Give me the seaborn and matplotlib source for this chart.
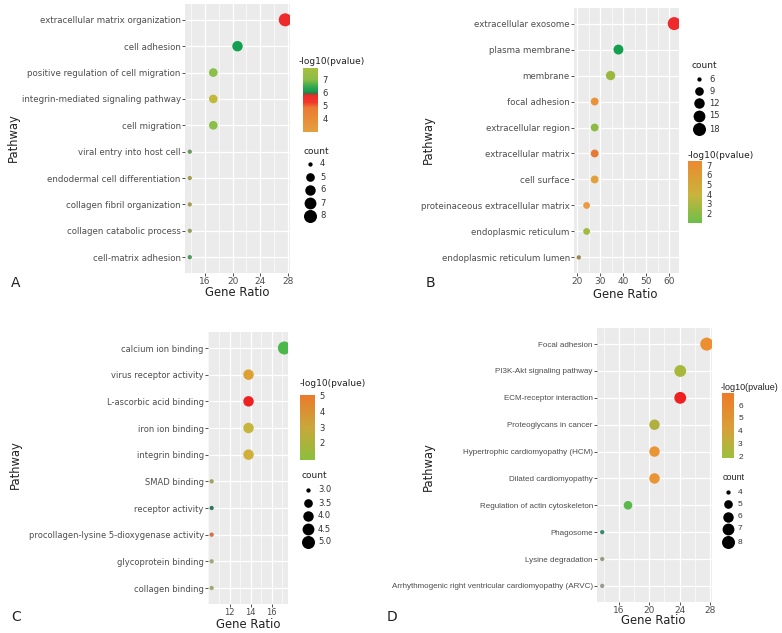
import matplotlib
matplotlib.use("Agg")
import matplotlib.pyplot as plt
import matplotlib.colors as mcolors
from matplotlib.cm import ScalarMappable
from matplotlib.ticker import AutoMinorLocator
import seaborn as sns
import pandas as pd
import numpy as np

# ---- A: biological process
terms_a = ["extracellular matrix organization", "cell adhesion", "positive regulation of cell migration",
           "integrin-mediated signaling pathway", "cell migration", "viral entry into host cell",
           "endodermal cell differentiation", "collagen fibril organization", "collagen catabolic process",
           "cell-matrix adhesion"]
ratio_a = [27.6, 20.7, 17.2, 17.2, 17.2, 13.8, 13.8, 13.8, 13.8, 13.8]
count_a = [8, 6, 5, 5, 5, 4, 4, 4, 4, 4]
colors_a = ["#ee2a2a", "#14a050", "#8cbf45", "#c2b83a", "#8cbf45",
            "#6a9a60", "#a39c55", "#a39c55", "#93a060", "#4f9a55"]
xticks_a = [16, 20, 24, 28]
pv_range_a = (3.0, 7.92)
pv_ticks_a = [4, 5, 6, 7]
count_labels_a = [4, 5, 6, 7, 8]

# ---- B: cellular component
terms_b = ["extracellular exosome", "plasma membrane", "membrane", "focal adhesion", "extracellular region",
           "extracellular matrix", "cell surface", "proteinaceous extracellular matrix",
           "endoplasmic reticulum", "endoplasmic reticulum lumen"]
ratio_b = [62.1, 37.9, 34.5, 27.6, 27.6, 27.6, 27.6, 24.1, 24.1, 20.7]
count_b = [18, 11, 10, 8, 8, 8, 8, 7, 7, 6]
colors_b = ["#ee2a2a", "#13a04e", "#9ab83e", "#e8923a", "#8cbb45",
            "#e57a35", "#e0a03a", "#ec9a45", "#a0bb40", "#9a8a50"]
xticks_b = [20, 30, 40, 50, 60]
pv_range_b = (1.0, 7.42)
pv_ticks_b = [2, 3, 4, 5, 6, 7]
count_labels_b = [6, 9, 12, 15, 18]

# ---- C: molecular function
terms_c = ["calcium ion binding", "virus receptor activity", "L-ascorbic acid binding", "iron ion binding",
           "integrin binding", "SMAD binding", "receptor activity",
           "procollagen-lysine 5-dioxygenase activity", "glycoprotein binding", "collagen binding"]
ratio_c = [17.2, 13.8, 13.8, 13.8, 13.8, 10.3, 10.3, 10.3, 10.3, 10.3]
count_c = [5, 4, 4, 4, 4, 3, 3, 3, 3, 3]
colors_c = ["#4cb84c", "#dea032", "#ee2020", "#c5b53a", "#d0b03a",
            "#a0a060", "#2e7a5a", "#d07050", "#a0a878", "#a0a870"]
xticks_c = [12, 14, 16]
pv_range_c = (0.9, 5.06)
pv_ticks_c = [2, 3, 4, 5]
count_labels_c = ["3.0", "3.5", "4.0", "4.5", "5.0"]

# ---- D: KEGG
terms_d = ["Focal adhesion", "PI3K-Akt signaling pathway", "ECM-receptor interaction", "Proteoglycans in cancer",
           "Hypertrophic cardiomyopathy (HCM)", "Dilated cardiomyopathy", "Regulation of actin cytoskeleton",
           "Phagosome", "Lysine degradation", "Arrhythmogenic right ventricular cardiomyopathy (ARVC)"]
ratio_d = [27.6, 24.1, 24.1, 20.7, 20.7, 20.7, 17.2, 13.8, 13.8, 13.8]
count_d = [8, 7, 7, 6, 6, 6, 5, 4, 4, 4]
colors_d = ["#ec8f30", "#a8b83a", "#ee2020", "#b0b040", "#ea9535",
            "#ea9535", "#5cb84c", "#3a8a6a", "#9a9a80", "#9a9a90"]
xticks_d = [16, 20, 24, 28]
pv_range_d = (1.85, 6.94)
pv_ticks_d = [2, 3, 4, 5, 6]
count_labels_d = [4, 5, 6, 7, 8]

W, H = 782, 633
TXT = "#4d4d4d"
DV = ["DejaVu Sans"]
LS = ["Liberation Sans", "DejaVu Sans"]

sns.set_theme(style="darkgrid", rc={"axes.facecolor": "#EBEBEB", "grid.color": "white"})
plt.rcParams["font.family"] = ["DejaVu Sans"]

fig = plt.figure(figsize=(W / 100, H / 100), dpi=100)


def px_axes(left, top, right, bottom):
    return fig.add_axes([left / W, 1 - bottom / H, (right - left) / W, (bottom - top) / H])


def dot_area(c, cmin, cmax):
    # ggplot-ish area scale: diameter grows with sqrt of the rescaled count
    d = 4.3 + 8.7 * np.sqrt((float(c) - cmin) / (cmax - cmin))
    return (d * 0.72) ** 2


def dot_panel(rect, terms, ratio, count, colors, xticks, ylab_family, ylab_size, xtick_size=6.5):
    ax = px_axes(*rect)
    df = pd.DataFrame({"term": terms, "ratio": ratio, "count": count})
    cmin, cmax = min(count), max(count)
    sizes = {c: dot_area(c, cmin, cmax) for c in set(count)}
    sns.scatterplot(data=df, x="ratio", y="term", hue="term", palette=dict(zip(terms, colors)),
                    size="count", sizes=sizes, legend=False, linewidth=0, ax=ax, zorder=3)
    pad = 0.05 * (max(ratio) - min(ratio))
    ax.set_xlim(min(ratio) - pad, max(ratio) + pad)
    ax.set_ylim(len(terms) - 0.4, -0.6)
    ax.set_yticks(range(len(terms)))
    ax.set_yticklabels(terms, family=ylab_family, fontsize=ylab_size, color=TXT)
    ax.set_xticks(xticks)
    ax.set_xticklabels([str(t) for t in xticks], fontsize=xtick_size, color=TXT)
    ax.xaxis.set_minor_locator(AutoMinorLocator(2))
    ax.grid(which="major", color="white", lw=0.9)
    ax.grid(which="minor", axis="x", color="white", lw=0.45)
    ax.tick_params(which="major", left=True, bottom=True, length=2, width=0.6, color="#333333", pad=1.0)
    ax.tick_params(which="minor", length=0)
    ax.set_xlabel("")
    ax.set_ylabel("")
    for s in ax.spines.values():
        s.set_visible(False)
    return ax


def pv_bar(rect, vrange, ticks, stops, lab_family):
    cax = px_axes(*rect)
    cmap = mcolors.LinearSegmentedColormap.from_list("pv", stops)
    norm = mcolors.Normalize(*vrange)
    cb = fig.colorbar(ScalarMappable(norm=norm, cmap=cmap), cax=cax, ticks=ticks)
    cb.outline.set_visible(False)
    cb.minorticks_off()
    cax.grid(False)
    cax.tick_params(direction="in", length=3, width=0.7, color="white", left=True, right=True,
                    labelleft=False, labelright=True, labelsize=6, labelcolor="#333333", pad=3)
    for t in cax.get_yticklabels():
        t.set_family(lab_family)


def count_key(ov, x, ys, labels, cmin, cmax, title_xy, lab_family):
    ov.text(title_xy[0], title_xy[1], "count", fontsize=6.5, color="#222222", va="center", family=lab_family)
    for y, lab in zip(ys, labels):
        ov.scatter([x], [y], s=dot_area(float(lab), cmin, cmax), color="black", linewidth=0)
        ov.text(x + 10, y, str(lab), fontsize=6, color="#333333", va="center", family=lab_family)


# panels
dot_panel((185, 4, 290, 273), terms_a, ratio_a, count_a, colors_a, xticks_a, DV, 6.2)
dot_panel((574, 8, 679, 273), terms_b, ratio_b, count_b, colors_b, xticks_b, DV, 6.2)
dot_panel((208, 332, 288, 604), terms_c, ratio_c, count_c, colors_c, xticks_c, DV, 6.0, xtick_size=6.0)
dot_panel((597, 328, 712, 602), terms_d, ratio_d, count_d, colors_d, xticks_d, LS, 5.8)

# colour bars
pv_bar((303, 68, 318, 132), pv_range_a, pv_ticks_a,
       [(0.0, "#e4a040"), (0.38, "#ea7a32"), (0.46, "#ee3a2a"), (0.57, "#ee2a2a"), (0.6, "#6a5a3a"),
        (0.63, "#109a50"), (0.72, "#3aaa50"), (0.82, "#8cbc45"), (1.0, "#a4c040")], DV)
pv_bar((688, 161, 702, 223), pv_range_b, pv_ticks_b,
       [(0.0, "#6cbf4a"), (0.45, "#c8b43c"), (1.0, "#ec8a30")], DV)
pv_bar((300, 395, 315, 460), pv_range_c, pv_ticks_c,
       [(0.0, "#8cbf3c"), (0.5, "#c8a83a"), (1.0, "#ec7a2a")], DV)
pv_bar((722, 393, 734, 458), pv_range_d, pv_ticks_d,
       [(0.0, "#9cc03c"), (0.45, "#d8a03a"), (1.0, "#ee7a28")], LS)

# overlay in pixel coordinates for titles and size keys
ov = fig.add_axes([0, 0, 1, 1], zorder=5)
ov.set_xlim(0, W)
ov.set_ylim(H, 0)
ov.axis("off")
ov.patch.set_alpha(0)

for x, y, fam, fs in [(299, 61, DV, 6.5), (688, 155, DV, 6.5), (300, 383, DV, 6.5), (721, 387, LS, 6.5)]:
    ov.text(x, y, "-log10(pvalue)", fontsize=fs, color="#222222", va="center", family=fam)

count_key(ov, 310, [164, 177, 190, 203, 216], count_labels_a, 4, 8, (303, 151), DV)
count_key(ov, 699, [79, 91, 103, 116, 129], count_labels_b, 6, 18, (692, 66), DV)
count_key(ov, 308, [490, 503, 516, 529, 542], count_labels_c, 3, 5, (302, 476), DV)
count_key(ov, 728, [492, 504, 517, 529, 542], count_labels_d, 4, 8, (723, 478), LS)

for x, y in [(237, 293), (625, 294), (248, 625), (653, 621)]:
    ov.text(x, y, "Gene Ratio", fontsize=8.4, color="#222222", ha="center", va="center")
for x, y in [(13, 138), (428, 140), (15, 465), (428, 467)]:
    ov.text(x, y, "Pathway", fontsize=8.3, color="#222222", ha="center", va="center", rotation=90)
for x, y, lab in [(16, 283, "A"), (430, 283, "B"), (16, 617, "C"), (392, 617, "D")]:
    ov.text(x, y, lab, fontsize=10, color="#222222", ha="center", va="center")

fig.savefig("out.png", dpi=100)
